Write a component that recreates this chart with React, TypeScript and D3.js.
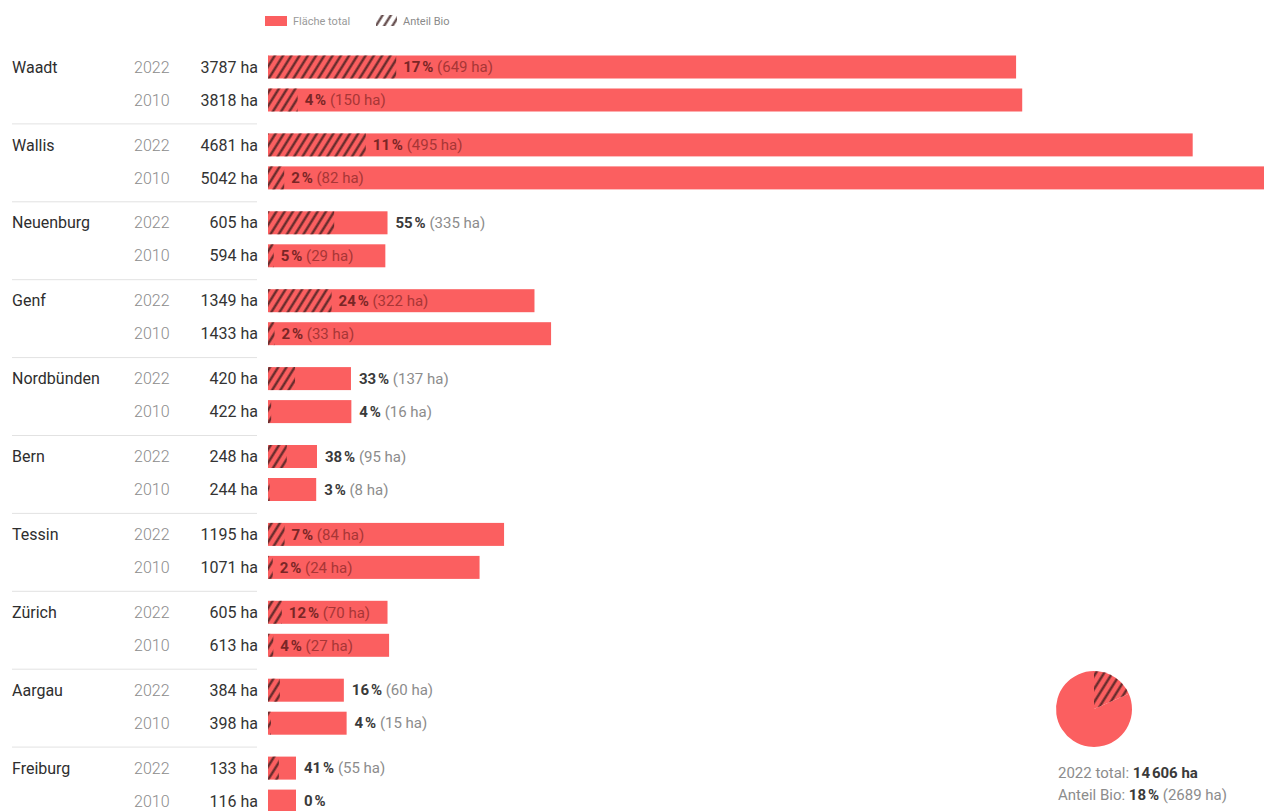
import React from "react";
import * as d3 from "d3";

// Bio vineyard area by canton, 2022 vs 2010
const regions = [
  "Waadt",
  "Wallis",
  "Neuenburg",
  "Genf",
  "Nordbünden",
  "Bern",
  "Tessin",
  "Zürich",
  "Aargau",
  "Freiburg",
];
const years = ["2022", "2010"];
const total2022 = [3787, 4681, 605, 1349, 420, 248, 1195, 605, 384, 133];
const total2010 = [3818, 5042, 594, 1433, 422, 244, 1071, 613, 398, 116];
const bio2022 = [649, 495, 335, 322, 137, 95, 84, 70, 60, 55];
const bio2010 = [150, 82, 29, 33, 16, 8, 24, 27, 15, 0];
const share2022 = [17, 11, 55, 24, 33, 38, 7, 12, 16, 41];
const share2010 = [4, 2, 5, 2, 4, 3, 2, 4, 4, 0];

const legendLabels = ["Fläche total", "Anteil Bio"];
const swissTotal2022 = 14606;
const swissBio2022 = 2689;
const swissShare2022 = 18;

const W = 1269;
const H = 811;
const RED = "#fb5f60";
const FONT = "Roboto, 'DejaVu Sans', sans-serif";
const NNBSP = "\u202F";

interface Row {
  region: string;
  year: string;
  total: number;
  bio: number;
  share: number;
}

const rows: Row[] = regions.flatMap((region, i) => [
  { region, year: years[0], total: total2022[i], bio: bio2022[i], share: share2022[i] },
  { region, year: years[1], total: total2010[i], bio: bio2010[i], share: share2010[i] },
]);

// canvas measuring to decide if a label fits inside the bar
const ctx = document.createElement("canvas").getContext("2d")!;
function measure(text: string, weight: number, size: number) {
  ctx.font = `${weight} ${size}px Roboto`;
  return ctx.measureText(text).width;
}

function fmtThousands(v: number) {
  return d3.format(",")(v).replace(/,/g, NNBSP);
}

export default function App() {
  const x = d3
    .scaleLinear()
    .domain([0, d3.max(rows, (d) => d.total)!])
    .range([268, 1264]);

  const groupY = d3
    .scaleBand<string>()
    .domain(regions)
    .range([46, 46 + 77.9 * regions.length]);

  const rowOffset = d3.scalePoint<string>().domain(years).range([21, 54]);
  const barH = 23;
  const minBar = 28; // tiny bars get a minimum width, like the print

  // pie for the national total
  const pieData = d3
    .pie<number>()
    .sort(null)
    .startAngle(0)
    .endAngle(Math.PI * 2)([swissBio2022, swissTotal2022 - swissBio2022]);
  const arc = d3.arc<d3.PieArcDatum<number>>().innerRadius(0).outerRadius(38);

  return (
    <div style={{ position: "absolute", left: 0, top: 0 }}>
      <svg width={W} height={H} style={{ display: "block", fontFamily: FONT }}>
        <defs>
          <pattern
            id="hatch"
            patternUnits="userSpaceOnUse"
            width={7}
            height={10}
            patternTransform="rotate(32)"
          >
            <line x1={3.5} y1={-1} x2={3.5} y2={11} stroke="#3b1c1c" strokeWidth={2.2} strokeOpacity={0.85} />
          </pattern>
        </defs>

        {/* Legend */}
        <g fontSize={11}>
          <rect x={265} y={16} width={22} height={10} fill={RED} />
          <text x={293} y={21} dy="0.35em" fill="#9a9a9a">
            {legendLabels[0]}
          </text>
          <rect x={376} y={15} width={21} height={11} fill="url(#hatch)" />
          <text x={403} y={21} dy="0.35em" fill="#8a8a8a">
            {legendLabels[1]}
          </text>
        </g>

        {/* Group separators and region names */}
        {regions.map((r, i) => {
          const y0 = groupY(r)!;
          return (
            <g key={r}>
              {i > 0 && <line x1={12} x2={257} y1={y0} y2={y0} stroke="#e2e2e2" strokeWidth={1} />}
              <text x={12} y={y0 + rowOffset(years[0])!} dy="0.35em" fontSize={16} fontWeight={400} fill="#2e2e2e">
                {r}
              </text>
            </g>
          );
        })}

        {/* Rows */}
        {rows.map((d) => {
          const cy = groupY(d.region)! + rowOffset(d.year)!;
          const x0 = x(0);
          const xEnd = Math.max(x(d.total), x0 + minBar);
          const xBio = x(d.bio);
          const pctText = `${d.share}${NNBSP}%`;
          const haText = d.bio > 0 ? ` (${d.bio} ha)` : "";
          const labelW = measure(pctText, 700, 15) + measure(haText, 400, 15);
          const inside = xEnd - xBio > labelW + 16;
          const lx = inside ? xBio + 7 : xEnd + 8;
          return (
            <g key={d.region + d.year}>
              <text x={134} y={cy} dy="0.35em" fontSize={16} fontWeight={300} fill="#8c8c8c">
                {d.year}
              </text>
              <text x={258} y={cy} dy="0.35em" fontSize={16} fontWeight={400} fill="#333" textAnchor="end">
                {`${d.total} ha`}
              </text>
              <rect x={x0} y={cy - barH / 2} width={xEnd - x0} height={barH} fill={RED} />
              {d.bio > 0 && (
                <rect x={x0} y={cy - barH / 2} width={xBio - x0} height={barH} fill="url(#hatch)" />
              )}
              <text x={lx} y={cy} dy="0.35em" fontSize={15}>
                <tspan fontWeight={700} fill={inside ? "#7a2626" : "#3a3a3a"}>
                  {pctText}
                </tspan>
                <tspan fontWeight={400} fill={inside ? "#a83636" : "#8c8c8c"}>
                  {haText}
                </tspan>
              </text>
            </g>
          );
        })}

        {/* National total pie */}
        <g transform="translate(1094,709)">
          {pieData.map((p, i) => (
            <path key={i} d={arc(p)!} fill={RED} />
          ))}
          <path d={arc(pieData[0])!} fill="url(#hatch)" />
        </g>
        <g fontSize={15}>
          <text x={1058} y={773} dy="0.35em">
            <tspan fill="#8c8c8c">2022 total: </tspan>
            <tspan fill="#3a3a3a" fontWeight={700}>{`${fmtThousands(swissTotal2022)} ha`}</tspan>
          </text>
          <text x={1058} y={795} dy="0.35em">
            <tspan fill="#8c8c8c">Anteil Bio: </tspan>
            <tspan fill="#3a3a3a" fontWeight={700}>{`${swissShare2022}${NNBSP}%`}</tspan>
            <tspan fill="#8c8c8c">{` (${swissBio2022} ha)`}</tspan>
          </text>
        </g>
      </svg>
    </div>
  );
}
